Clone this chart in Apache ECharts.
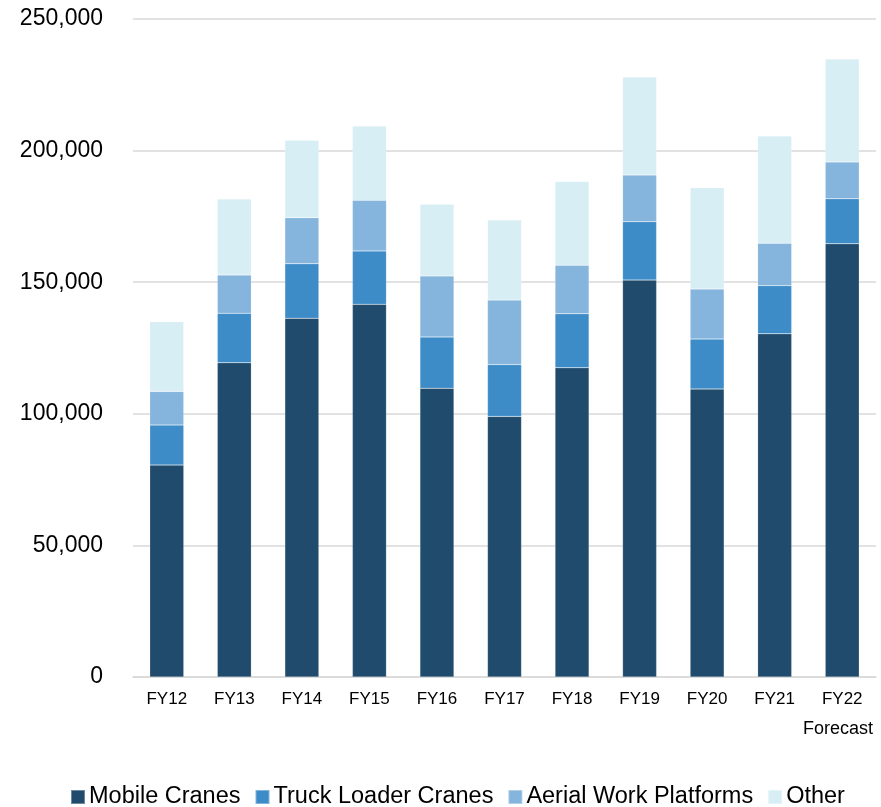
<!DOCTYPE html>
<html>
<head>
<meta charset="utf-8">
<script src="https://cdn.jsdelivr.net/npm/echarts@6/dist/echarts.min.js"></script>
<style>
  html, body { margin: 0; padding: 0; background: #fff; }
  #chart { width: 881px; height: 807px; }
</style>
</head>
<body>
<div id="chart"></div>
<script>
// Fiscal years shown on the category axis
const years = ['FY12', 'FY13', 'FY14', 'FY15', 'FY16', 'FY17', 'FY18', 'FY19', 'FY20', 'FY21', 'FY22'];

// Units per segment, stacked bottom to top
const mobileCranes       = [80500, 119400, 136300, 141600, 109700,  99000, 117500, 150800, 109400, 130400, 164600];
const truckLoaderCranes  = [15200,  18800,  20700,  20300,  19500,  19700,  20500,  22200,  19000,  18300,  17100];
const aerialWorkPlatform = [12800,  14500,  17500,  19200,  23200,  24500,  18400,  17700,  19000,  16100,  14000];
const other              = [26500,  28900,  29400,  28200,  27200,  30400,  31900,  37300,  38500,  40700,  39100];

const seriesNames = ['Mobile Cranes', 'Truck Loader Cranes', 'Aerial Work Platforms', 'Other'];
const seriesColors = ['#204b6c', '#3d8cc8', '#85b4dc', '#d8eef5'];
const seriesData = [mobileCranes, truckLoaderCranes, aerialWorkPlatform, other];

const font = 'Liberation Sans, Arial, sans-serif';

const chart = echarts.init(document.getElementById('chart'), null, { renderer: 'canvas' });

chart.setOption({
  animation: false,
  textStyle: { fontFamily: font },
  grid: { left: 133, right: 5, top: 19, bottom: 130, containLabel: false },
  xAxis: {
    type: 'category',
    data: years,
    axisTick: { show: false },
    axisLine: { lineStyle: { color: '#d9d9d9', width: 1.5 } },
    axisLabel: { color: '#000', fontSize: 17, margin: 14, fontFamily: font }
  },
  yAxis: {
    type: 'value',
    min: 0,
    max: 250000,
    interval: 50000,
    axisLine: { show: false },
    axisTick: { show: false },
    splitLine: { lineStyle: { color: '#d9d9d9', width: 1.5 } },
    axisLabel: {
      color: '#000',
      fontSize: 23,
      margin: 30,
      fontFamily: font,
      formatter: v => v.toLocaleString('en-US')
    }
  },
  legend: {
    top: 785,
    left: 70,
    padding: 0,
    itemWidth: 14,
    itemHeight: 14,
    itemGap: 14,
    icon: 'rect',
    textStyle: { fontSize: 23.5, color: '#000', fontFamily: font, padding: [0, 0, 0, -1] },
    data: seriesNames
  },
  graphic: [{
    type: 'text',
    right: 8,
    top: 720,
    style: { text: 'Forecast', fill: '#000', fontSize: 18, fontFamily: font }
  }],
  series: seriesNames.map((name, i) => ({
    name: name,
    type: 'bar',
    stack: 'total',
    barWidth: 34,
    data: seriesData[i],
    itemStyle: { color: seriesColors[i], borderColor: 'rgba(255,255,255,0.35)', borderWidth: 0.5 }
  }))
});
</script>
</body>
</html>
